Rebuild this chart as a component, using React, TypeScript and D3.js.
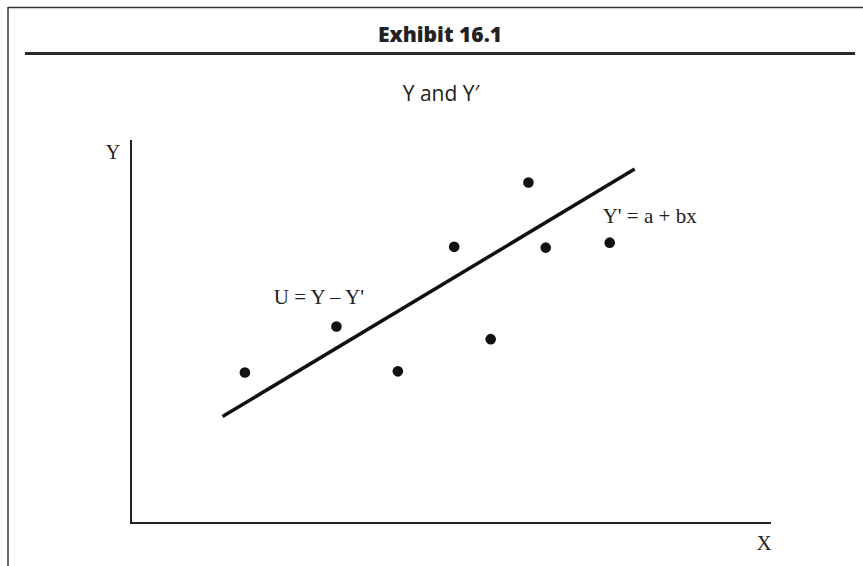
import * as d3 from "d3"

const W = 863
const H = 566

const xValues = [1.78, 3.21, 4.17, 5.05, 5.62, 6.21, 6.48, 7.48]
const yValues = [3.93, 5.13, 3.96, 7.21, 4.8, 8.89, 7.19, 7.32]

// fitted line Y' = a + bx, drawn between these two X values
const fitX = [1.43, 7.87]
const fitY = [2.78, 9.24]

const title = "Exhibit 16.1"
const subtitle = "Y and Y\u2032"
const residualLabel = "U = Y \u2013 Y'"
const fitLabel = "Y' = a + bx"

export default function App() {
  const x = d3.scaleLinear().domain([0, 10]).range([131, 771])
  const y = d3.scaleLinear().domain([0, 10]).range([523, 140])

  const points = xValues.map((v, i) => ({ x: v, y: yValues[i] }))
  const fit = fitX.map((v, i) => ({ x: v, y: fitY[i] }))

  const line = d3
    .line<{ x: number; y: number }>()
    .x((d) => x(d.x))
    .y((d) => y(d.y))

  const serif = "'Liberation Serif', 'Times New Roman', serif"
  const sans = "'Open Sans', 'Noto Sans', sans-serif"

  return (
    <svg width={W} height={H} style={{ position: "absolute", left: 0, top: 0, background: "#fff" }}>
      {/* frame */}
      <line x1={8} y1={7.5} x2={W} y2={7.5} stroke="#333" strokeWidth={1.5} />
      <line x1={8} y1={7} x2={8} y2={H} stroke="#333" strokeWidth={1.5} />

      <text x={440} y={42} textAnchor="middle" fontFamily={sans} fontWeight={800} fontSize={21} fill="#222">
        {title}
      </text>
      <line x1={25} y1={53.5} x2={855} y2={53.5} stroke="#2a2a2a" strokeWidth={3} />

      <text x={441} y={101} textAnchor="middle" fontFamily={sans} fontSize={21} fill="#222">
        {subtitle}
      </text>

      {/* axes */}
      <path
        d={`M${x(0)},${y(10)}V${y(0)}H${x(10)}`}
        fill="none"
        stroke="#222"
        strokeWidth={2}
      />
      <text x={113} y={159} textAnchor="middle" fontFamily={serif} fontSize={20} fill="#222">
        Y
      </text>
      <text x={764} y={550} textAnchor="middle" fontFamily={serif} fontSize={21} fill="#222">
        X
      </text>

      {/* fitted line */}
      <path d={line(fit) ?? ""} fill="none" stroke="#111" strokeWidth={3.5} />

      {/* observations */}
      {points.map((p, i) => (
        <circle key={i} cx={x(p.x)} cy={y(p.y)} r={5.3} fill="#111" />
      ))}

      <text x={x(2.23)} y={y(5.72)} fontFamily={serif} fontSize={21} fill="#222">
        {residualLabel}
      </text>
      <text x={x(7.37)} y={y(7.84)} fontFamily={serif} fontSize={21} fill="#222">
        {fitLabel}
      </text>
    </svg>
  )
}
